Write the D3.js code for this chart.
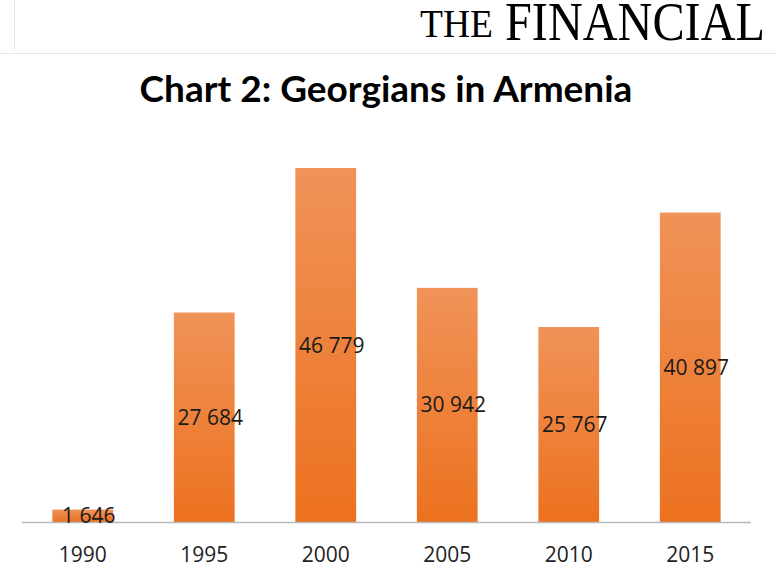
<!DOCTYPE html>
<html><head><meta charset="utf-8">
<script src="https://cdn.jsdelivr.net/npm/d3@7"></script>
<style>html,body{margin:0;padding:0;background:#fff;overflow:hidden}</style>
</head><body>
<svg id="c" width="776" height="573"></svg>
<script>
const years = ["1990","1995","2000","2005","2010","2015"];
const values = [1646, 27684, 46779, 30942, 25767, 40897];
const labels = ["1 646","27 684","46 779","30 942","25 767","40 897"];
const title = "Chart 2: Georgians in Armenia";

const svg = d3.select("#c");
// masthead
svg.append("line").attr("x1",14.5).attr("x2",14.5).attr("y1",0).attr("y2",50).attr("stroke","#e6e6e6");
svg.append("line").attr("x1",0).attr("x2",776).attr("y1",53.5).attr("y2",53.5).attr("stroke","#e6e6e6");
svg.append("text").attr("x",420).attr("y",37).attr("font-family","Liberation Serif, serif")
  .attr("font-size",40).attr("fill","#000").attr("textLength",73).attr("lengthAdjust","spacingAndGlyphs").text("THE");
svg.append("text").attr("x",505).attr("y",40).attr("font-family","Liberation Serif, serif")
  .attr("font-size",55).attr("fill","#000").attr("textLength",260).attr("lengthAdjust","spacingAndGlyphs").text("FINANCIAL");

// title
const t = svg.append("text").attr("x",386).attr("y",102).attr("text-anchor","middle")
  .attr("font-family","Lato, 'Open Sans', sans-serif").attr("font-weight","bold")
  .attr("font-size",32).attr("fill","#000").text(title);
const tw = t.node().getComputedTextLength();
t.attr("font-size", 32*493/tw);

const baseY = 522, topY = 168;
const x = d3.scaleBand().domain(years).range([22,751]).paddingInner(0.5).paddingOuter(0.25);
const y = d3.scaleLinear().domain([0, d3.max(values)]).range([baseY, topY]);

const defs = svg.append("defs");
const g = defs.append("linearGradient").attr("id","bg").attr("x1",0).attr("y1",0).attr("x2",0).attr("y2",1);
g.append("stop").attr("offset","0%").attr("stop-color","#f09358");
g.append("stop").attr("offset","100%").attr("stop-color","#ec711f");

const data = years.map((yr,i)=>({yr, v:values[i], l:labels[i]}));

svg.append("g").selectAll("rect").data(data).join("rect")
  .attr("x",d=>x(d.yr)).attr("width",x.bandwidth())
  .attr("y",d=>y(d.v)).attr("height",d=>baseY-y(d.v))
  .attr("fill","url(#bg)");

const axis = svg.append("g").attr("transform",`translate(0,${baseY})`)
  .call(d3.axisBottom(x).tickSize(0).tickPadding(0));
axis.select(".domain").attr("stroke","#b8b8b8").attr("stroke-width",1.5).attr("d","M22,0.5H751");
axis.selectAll(".tick text").attr("font-family","'Open Sans', sans-serif").attr("font-size",21)
  .attr("fill","#222").attr("dy",null).attr("y",40);

svg.append("g").selectAll("text").data(data).join("text")
  .attr("x",d=>x(d.yr)+x.bandwidth()/2+6)
  .attr("y",d=>(y(d.v)+baseY)/2)
  .attr("dy","0.36em").attr("text-anchor","middle")
  .attr("font-family","'Open Sans', sans-serif").attr("font-size",21).attr("fill","#1a1a1a")
  .text(d=>d.l);
</script>
</body></html>
